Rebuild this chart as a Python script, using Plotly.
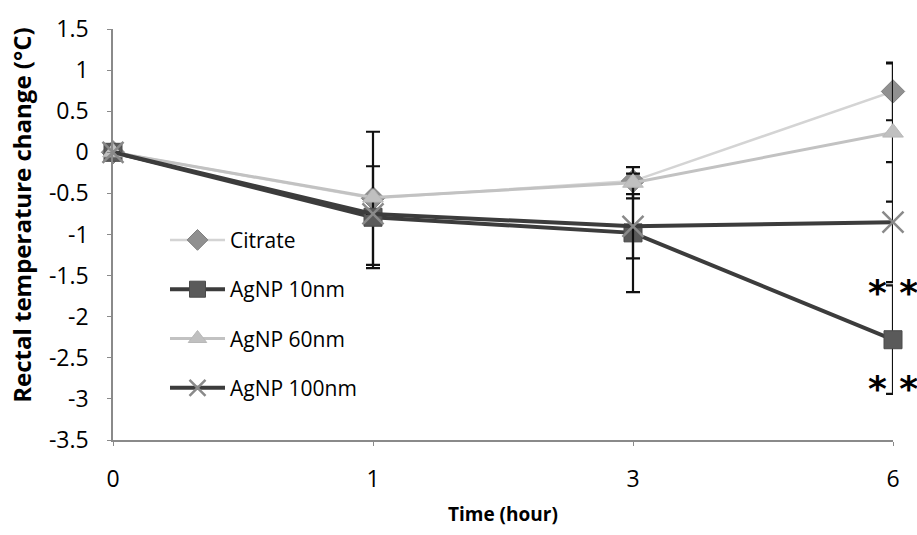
import plotly.graph_objects as go

# ---- data ----
time_labels = ["0", "1", "3", "6"]
series_names = ["Citrate", "AgNP 10nm", "AgNP 60nm", "AgNP 100nm"]
citrate = [0.0, -0.56, -0.35, 0.74]
agnp10 = [0.0, -0.79, -0.98, -2.28]
agnp60 = [0.0, -0.55, -0.37, 0.24]
agnp100 = [0.0, -0.75, -0.90, -0.85]
citrate_err = [0.0, 0.81, 0.0, 0.35]
agnp10_err = [0.0, 0.62, 0.72, 0.66]
agnp60_err = [0.0, 0.0, 0.19, 0.84]
agnp100_err = [0.0, 0.0, 0.39, 0.73]
y_ticks = [1.5, 1, 0.5, 0, -0.5, -1, -1.5, -2, -2.5, -3, -3.5]
sig_label = "* *"
sig_y = [-1.6, -2.76]

FONT = "Open Sans"
PLOT_TOP, PLOT_BOTTOM, PLOT_LEFT, PLOT_RIGHT = 22, 440, 113, 893
PH = PLOT_BOTTOM - PLOT_TOP
PW = PLOT_RIGHT - PLOT_LEFT

styles = [
    dict(line=dict(color="#d4d4d4", width=2.5),
         marker=dict(symbol="diamond", size=18, color="#909090", line=dict(color="#808080", width=1))),
    dict(line=dict(color="#3c3c3c", width=4),
         marker=dict(symbol="square", size=18, color="#5a5a5a", line=dict(color="#4a4a4a", width=1))),
    dict(line=dict(color="#c2c2c2", width=3),
         marker=dict(symbol="triangle-up", size=18, color="#c0c0c0", line=dict(color="#b8b8b8", width=1))),
    dict(line=dict(color="#3c3c3c", width=4),
         marker=dict(symbol="x-thin", size=21, color="#9a9a9a", line=dict(color="#8a8a8a", width=2.5))),
]

fig = go.Figure()
for i, (name, vals, errs) in enumerate(zip(series_names,
                                           [citrate, agnp10, agnp60, agnp100],
                                           [citrate_err, agnp10_err, agnp60_err, agnp100_err])):
    fig.add_trace(go.Scatter(
        x=time_labels, y=vals, name=name, mode="lines+markers",
        legendgroup=name, cliponaxis=False,
        error_y=dict(type="data", array=errs, visible=True, color="#111111",
                     thickness=2.2, width=7),
        **styles[i],
    ))

annotations = []
for yy in sig_y:
    annotations.append(dict(x=3, y=yy, xref="x", yref="y", text="<b>" + sig_label + "</b>",
                            showarrow=False,
                            font=dict(family="DejaVu Sans", size=36, color="#000000"),
                            xanchor="center", yanchor="middle", yshift=-9))
annotations.append(dict(x=(22 - PLOT_LEFT) / PW, y=(PLOT_BOTTOM - 212) / PH,
                        xref="paper", yref="paper",
                        text="<b>Rectal temperature change (°C)</b>", textangle=-90,
                        showarrow=False, font=dict(family=FONT, size=24, color="#000000"),
                        xanchor="center", yanchor="middle"))
annotations.append(dict(x=0.5, y=(PLOT_BOTTOM - 515) / PH, xref="paper", yref="paper",
                        text="<b>Time (hour)</b>", showarrow=False,
                        font=dict(family=FONT, size=19, color="#000000"),
                        xanchor="center", yanchor="middle"))

fig.update_layout(
    width=917, height=535,
    margin=dict(l=PLOT_LEFT, r=917 - PLOT_RIGHT, t=PLOT_TOP, b=535 - PLOT_BOTTOM),
    paper_bgcolor="white", plot_bgcolor="white",
    font=dict(family=FONT, size=20, color="#000000"),
    showlegend=True,
    legend=dict(x=(165 - PLOT_LEFT) / PW, y=(PLOT_BOTTOM - 216) / PH,
                xanchor="left", yanchor="top",
                bgcolor="rgba(0,0,0,0)", font=dict(family=FONT, size=21),
                tracegroupgap=19, itemwidth=55),
    annotations=annotations,
    xaxis=dict(type="category", range=[0, 3], showgrid=False, zeroline=False,
               showline=True, linecolor="#8a8a8a", linewidth=1.5,
               ticks="outside", ticklen=4, tickcolor="#8a8a8a",
               ticklabelstandoff=14, tickfont=dict(family=FONT, size=23)),
    yaxis=dict(range=[-3.5, 1.5], tickvals=y_ticks, ticktext=[f"{v:g}" for v in y_ticks],
               showgrid=False, zeroline=False, showline=True, linecolor="#8a8a8a",
               linewidth=1.5, ticks="outside", ticklen=4, tickcolor="#8a8a8a",
               ticklabelstandoff=14, tickfont=dict(family=FONT, size=23)),
)

fig.write_html("out.html")
